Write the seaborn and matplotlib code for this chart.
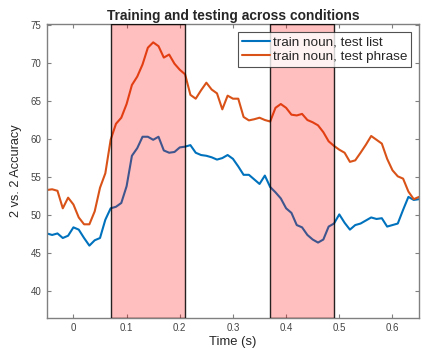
import numpy as np
import pandas as pd
import matplotlib
matplotlib.use("Agg")
import matplotlib.pyplot as plt
import seaborn as sns

# time axis: -0.05 .. 0.65 s in 10 ms steps
time = np.round(np.arange(-0.05, 0.655, 0.01), 2)

test_list = [47.6, 47.4, 47.6, 47.0, 47.3, 48.4, 48.1, 47.0, 46.0, 46.7,
             47.0, 49.4, 50.9, 51.1, 51.6, 53.8, 57.8, 58.8, 60.3, 60.3,
             59.9, 60.3, 58.5, 58.2, 58.3, 58.9, 59.0, 59.2, 58.2, 57.9,
             57.8, 57.6, 57.3, 57.5, 57.9, 57.4, 56.4, 55.3, 55.3, 54.7,
             54.1, 55.2, 53.7, 53.0, 52.2, 50.9, 50.3, 48.7, 48.4, 47.4,
             46.8, 46.4, 46.8, 48.5, 48.9, 50.1, 49.0, 48.1, 48.7, 48.9,
             49.3, 49.7, 49.5, 49.6, 48.5, 48.7, 48.9, 50.7, 52.4, 52.0,
             52.1]

test_phrase = [53.3, 53.4, 53.2, 50.9, 52.3, 51.4, 49.7, 48.8, 48.8, 50.5,
               53.6, 55.5, 59.9, 62.0, 62.8, 64.6, 67.1, 68.2, 69.8, 72.0,
               72.7, 72.2, 70.7, 71.1, 69.9, 69.1, 68.5, 65.8, 65.3, 66.4,
               67.4, 66.5, 66.0, 63.9, 65.7, 65.3, 65.3, 62.9, 62.45, 62.6,
               62.8, 62.5, 62.3, 64.1, 64.6, 64.1, 63.2, 63.1, 63.3, 62.5,
               62.2, 61.8, 60.9, 59.7, 59.1, 58.6, 58.2, 57.0, 57.2, 58.2,
               59.25, 60.4, 59.9, 59.4, 57.4, 55.9, 55.1, 54.8, 53.1, 52.1,
               52.4]

windows = [(0.07, 0.21), (0.37, 0.49)]

series_names = ["train noun, test list", "train noun, test phrase"]

df = pd.DataFrame({
    "time": np.concatenate([time, time]),
    "acc": test_list + test_phrase,
    "cond": [series_names[0]] * len(time) + [series_names[1]] * len(time),
})

sns.set_style("white")
plt.rcParams["font.family"] = ["Liberation Sans", "DejaVu Sans"]

fig = plt.figure(figsize=(4.22, 3.49), dpi=100)
ax = fig.add_axes([0.111, 0.089, 0.882, 0.842])

sns.lineplot(data=df, x="time", y="acc", hue="cond",
             palette=["#0072BD", "#D95319"], linewidth=1.5, ax=ax)

# shaded time windows, drawn over the lines
for a, b in windows:
    ax.axvspan(a, b, facecolor=(1, 0, 0, 0.25), edgecolor=(0, 0, 0, 0.85),
               linewidth=1.0, zorder=5)

ax.set_xlim(-0.05, 0.65)
ax.set_ylim(36.5, 75.1)
ax.set_xticks([0, 0.1, 0.2, 0.3, 0.4, 0.5, 0.6])
ax.set_xticklabels(["0", "0.1", "0.2", "0.3", "0.4", "0.5", "0.6"])
ax.set_yticks([40, 45, 50, 55, 60, 65, 70, 75])

for s in ax.spines.values():
    s.set_color("#808080")
    s.set_linewidth(1.0)
ax.tick_params(direction="in", length=3, width=0.8, color="#808080",
               labelsize=7, labelcolor="#444444", top=True, right=True,
               bottom=True, left=True, pad=4)

ax.set_xlabel("Time (s)", fontsize=9.4, color="#262626", labelpad=2)
ax.set_ylabel("2 vs. 2 Accuracy", fontsize=9.2, color="#262626")
ax.yaxis.set_label_coords(-0.068, 0.5)
ax.set_title("Training and testing across conditions", fontsize=9.9,
             fontweight="bold", pad=3)

leg = ax.legend(loc="upper right", fontsize=9.7, frameon=True, fancybox=False,
                borderpad=0.3, labelspacing=0.12, handlelength=2.1,
                handletextpad=0.2, borderaxespad=0.6)
leg.get_frame().set_edgecolor("#262626")
leg.get_frame().set_linewidth(0.8)
leg.set_zorder(10)

fig.savefig("out.png", dpi=100)
